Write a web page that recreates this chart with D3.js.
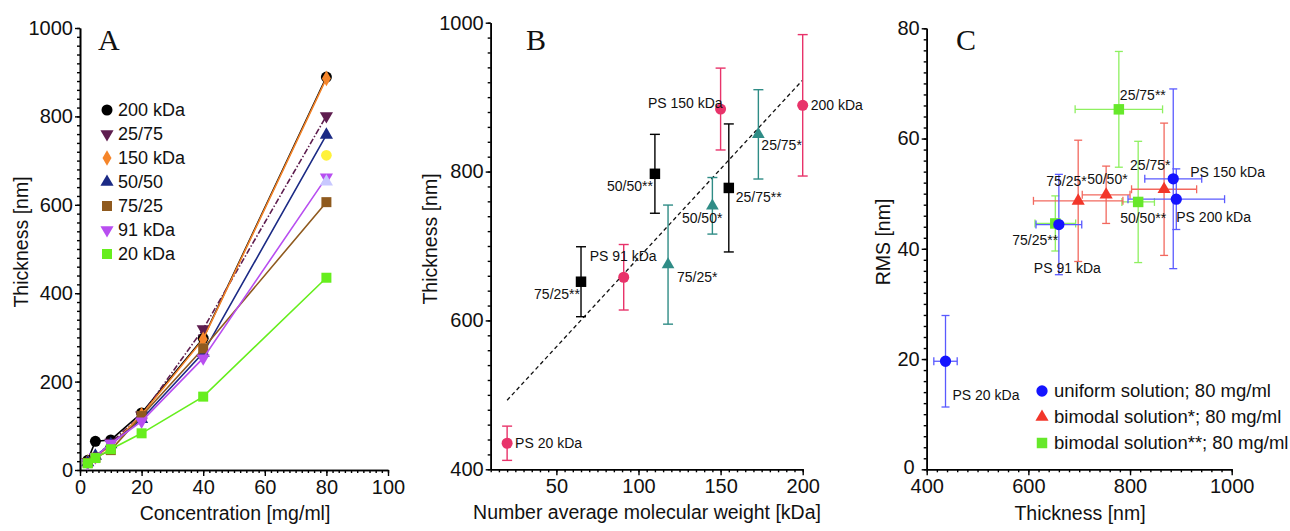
<!DOCTYPE html>
<html>
<head>
<meta charset="utf-8">
<script src="https://cdn.jsdelivr.net/npm/d3@7"></script>
<style>
  body { margin: 0; background: #fff; }
  svg text { font-family: 'Liberation Sans', Arial, sans-serif; fill: #111; }
</style>
</head>
<body>
<script>
// ---------- panel A: thickness vs concentration
const concentrations = [2.5, 5, 10, 20, 40, 80]
const namesA = ['200 kDa', '25/75', '150 kDa', '50/50', '75/25', '91 kDa', '20 kDa']
const thick200 = [22, 65, 68, 129, 298, 889]
const thick2575 = [18, 30, 62, 124, 319, 801]
const thick150 = [18, 30, 55, 125, 296, 886]
const thick5050 = [17, 32, 58, 115, 265, 758]
const thick7525 = [16, 28, 45, 122, 275, 606]
const thick91 = [16, 30, 60, 110, 253, 662]
const thick20 = [15, 27, 47, 83, 166, 435]
// two lone points at 80 mg/ml without a legend entry
const strayConc = [80, 80]
const strayThick = [712, 652]

// ---------- panel B: thickness vs molecular weight
const mwUniform = [20, 91, 150, 200]
const thickUniform = [435, 658, 884, 889]
const errUniform = [23, 44, 55, 95]
const labUniformB = ['PS 20 kDa', 'PS 91 kDa', 'PS 150 kDa', '200 kDa']
const mwBimodal2 = [65, 110, 155]
const thickBimodal2 = [652, 797, 778]
const errBimodal2 = [47, 53, 86]
const labBimodal2B = ['75/25**', '50/50**', '25/75**']
const mwBimodal1 = [118, 145, 173]
const thickBimodal1 = [675, 754, 850]
const errBimodal1 = [80, 38, 60]
const labBimodal1B = ['75/25*', '50/50*', '25/75*']
const fitSlope = 2.39
const fitIntercept = 445

// ---------- panel C: RMS vs thickness
const cThickUni = [437, 660, 885, 891]
const cRmsUni = [19.6, 44.4, 52.7, 49.0]
const cThickErrUni = [23, 45, 56, 95]
const cRmsErrUni = [8.3, 9.1, 16.3, 5.5]
const labUniC = ['PS 20 kDa', 'PS 91 kDa', 'PS 150 kDa', 'PS 200 kDa']
const cThickBi1 = [698, 753, 867]
const cRmsBi1 = [48.7, 49.8, 50.8]
const cThickErrBi1 = [88, 47, 64]
const cRmsErrBi1 = [11, 5.2, 12]
const labBi1C = ['75/25*', '50/50*', '25/75*']
const cThickBi2 = [653, 816, 778]
const cRmsBi2 = [44.6, 48.5, 65.3]
const cThickErrBi2 = [40, 32, 86]
const cRmsErrBi2 = [5, 11, 10.5]
const labBi2C = ['75/25**', '50/50**', '25/75**']
const legendC = ['uniform solution; 80 mg/ml', 'bimodal solution*; 80 mg/ml', 'bimodal solution**; 80 mg/ml']

const svg = d3.select('body').append('svg')
  .attr('width', 1290)
  .attr('height', 531)

const sym = (type, size) => d3.symbol().type(type).size(size)()
const fmt = d3.format('d')

function drawAxes (x, y, xMaj, xMin, yMaj, yMin) {
  const [x0] = x.range()
  const [y0] = y.range()
  const gx = svg.append('g').attr('transform', `translate(0,${y0})`)
  gx.append('g').call(d3.axisBottom(x).tickValues(xMin).tickSize(3).tickFormat('').tickSizeOuter(0))
  gx.append('g').call(d3.axisBottom(x).tickValues(xMaj).tickFormat(fmt).tickSize(6).tickPadding(4).tickSizeOuter(0))
  const gy = svg.append('g').attr('transform', `translate(${x0},0)`)
  gy.append('g').call(d3.axisLeft(y).tickValues(yMin).tickSize(3).tickFormat('').tickSizeOuter(0))
  const yAx = gy.append('g').call(d3.axisLeft(y).tickValues(yMaj).tickFormat(fmt).tickSize(5).tickPadding(2).tickSizeOuter(0))
  for (const g of [gx, gy]) {
    g.selectAll('.domain').attr('stroke', '#000').attr('stroke-width', 1.6)
    g.selectAll('.tick line').attr('stroke', '#000').attr('stroke-width', 1.4)
    g.selectAll('g').attr('font-size', 20).attr('font-family', null)
  }
  return yAx
}

function title (x, y, txt, rotate) {
  svg.append('text')
    .attr('transform', rotate ? `translate(${x},${y}) rotate(-90)` : `translate(${x},${y})`)
    .attr('text-anchor', 'middle')
    .attr('dominant-baseline', rotate ? 'central' : 'auto')
    .attr('font-size', 19.5)
    .text(txt)
}

function letter (x, txt) {
  svg.append('text').attr('x', x).attr('y', 50)
    .style('font-family', "'Liberation Serif', 'Times New Roman', serif")
    .attr('font-size', 30)
    .text(txt)
}

// ================= Panel A
const xA = d3.scaleLinear([0, 100], [80, 388])
const yA = d3.scaleLinear([0, 1000], [470, 28])
drawAxes(xA, yA, d3.range(0, 101, 20), d3.range(0, 101, 2), d3.range(0, 1001, 200), d3.range(0, 1001, 20))
title(21, 242, 'Thickness [nm]', true)
title(235, 520, 'Concentration [mg/ml]', false)
letter(98, 'A')

const seriesA = [thick200, thick2575, thick150, thick5050, thick7525, thick91, thick20]
const styleA = [
  { color: '#000000', type: d3.symbolCircle, size: 95, rot: 0 },
  { color: '#5e1d4f', type: d3.symbolTriangle, size: 75, rot: 180, dash: '6,2,1.5,2' },
  { color: '#f5852a', type: d3.symbolDiamond, size: 70, rot: 0 },
  { color: '#1b2a85', type: d3.symbolTriangle, size: 75, rot: 0 },
  { color: '#8f5a1e', type: d3.symbolSquare, size: 100, rot: 0 },
  { color: '#b84ef0', type: d3.symbolTriangle, size: 75, rot: 180 },
  { color: '#66ee1d', type: d3.symbolSquare, size: 100, rot: 0 }
]
const lineA = d3.line().x(d => xA(d[0])).y(d => yA(d[1]))
seriesA.forEach((vals, i) => {
  const st = styleA[i]
  const pts = concentrations.map((c, j) => [c, vals[j]])
  const g = svg.append('g')
  g.append('path').attr('d', lineA(pts))
    .attr('fill', 'none').attr('stroke', st.color).attr('stroke-width', 1.6)
    .attr('stroke-dasharray', st.dash || null)
  g.selectAll('path.m').data(pts).join('path').attr('class', 'm')
    .attr('d', sym(st.type, st.size))
    .attr('transform', d => `translate(${xA(d[0])},${yA(d[1])}) rotate(${st.rot})`)
    .attr('fill', st.color)
})
svg.append('path').attr('d', sym(d3.symbolCircle, 90))
  .attr('transform', `translate(${xA(strayConc[0])},${yA(strayThick[0])})`).attr('fill', '#fff23a')
svg.append('path').attr('d', sym(d3.symbolTriangle, 75))
  .attr('transform', `translate(${xA(strayConc[1])},${yA(strayThick[1])})`).attr('fill', '#c8c8ff')

const legA = svg.append('g')
namesA.forEach((n, i) => {
  const st = styleA[i]
  const yy = 110 + i * 24
  legA.append('path').attr('d', sym(st.type, st.size))
    .attr('transform', `translate(107,${yy}) rotate(${st.rot})`).attr('fill', st.color)
  legA.append('text').attr('x', 118).attr('y', yy).attr('dy', '0.35em')
    .attr('font-size', 18).text(n)
})

// ================= Panel B
const xB = d3.scaleLinear([10, 200], [490.7, 802.7])
const yB = d3.scaleLinear([400, 1000], [469.3, 22.7])
drawAxes(xB, yB, [50, 100, 150, 200], d3.range(10, 201, 5), d3.range(400, 1001, 200), d3.range(400, 1001, 20))
title(430, 239, 'Thickness [nm]', true)
title(647, 519, 'Number average molecular weight [kDa]', false)
letter(526, 'B')

svg.append('line')
  .attr('x1', xB(20)).attr('y1', yB(fitIntercept + fitSlope * 20))
  .attr('x2', xB(200)).attr('y2', yB(fitIntercept + fitSlope * 200))
  .attr('stroke', '#111').attr('stroke-width', 1.3).attr('stroke-dasharray', '4,3')

function errY (g, x, y, lo, hi, cap, color, w) {
  g.append('line').attr('x1', x).attr('x2', x).attr('y1', y(lo)).attr('y2', y(hi))
    .attr('stroke', color).attr('stroke-width', w)
  for (const v of [lo, hi]) {
    g.append('line').attr('x1', x - cap).attr('x2', x + cap).attr('y1', y(v)).attr('y2', y(v))
      .attr('stroke', color).attr('stroke-width', w)
  }
}
function errX (g, y, x, lo, hi, cap, color, w) {
  g.append('line').attr('y1', y).attr('y2', y).attr('x1', x(lo)).attr('x2', x(hi))
    .attr('stroke', color).attr('stroke-width', w)
  for (const v of [lo, hi]) {
    g.append('line').attr('y1', y - cap).attr('y2', y + cap).attr('x1', x(v)).attr('x2', x(v))
      .attr('stroke', color).attr('stroke-width', w)
  }
}

const groupsB = [
  { mw: mwBimodal2, t: thickBimodal2, e: errBimodal2, lab: labBimodal2B, color: '#000000', type: d3.symbolSquare, size: 110,
    off: [[-1, 17, 'end'], [-2, 17, 'end'], [7, 14, 'start']] },
  { mw: mwBimodal1, t: thickBimodal1, e: errBimodal1, lab: labBimodal1B, color: '#2f8c86', type: d3.symbolTriangle, size: 70,
    off: [[9, 17, 'start'], [10, 17, 'end'], [3, 16, 'start']] },
  { mw: mwUniform, t: thickUniform, e: errUniform, lab: labUniformB, color: '#e8336a', type: d3.symbolCircle, size: 95,
    off: [[8, 5, 'start'], [-34, -16, 'start'], [2, -1, 'end'], [8, 5, 'start']] }
]
groupsB.forEach(gr => {
  const g = svg.append('g')
  gr.mw.forEach((m, i) => {
    const px = xB(m)
    errY(g, px, yB, gr.t[i] - gr.e[i], gr.t[i] + gr.e[i], 5, gr.color, 1.4)
    g.append('path').attr('d', sym(gr.type, gr.size))
      .attr('transform', `translate(${px},${yB(gr.t[i])})`).attr('fill', gr.color)
    g.append('text').attr('x', px + gr.off[i][0]).attr('y', yB(gr.t[i]) + gr.off[i][1])
      .attr('text-anchor', gr.off[i][2]).attr('font-size', 14).text(gr.lab[i])
  })
})

// ================= Panel C
const xC = d3.scaleLinear([400, 1000], [926.7, 1231.7])
const yC = d3.scaleLinear([0, 80], [469.3, 28.3])
const yAxC = drawAxes(xC, yC, d3.range(400, 1001, 200), d3.range(400, 1001, 20), d3.range(0, 81, 20), d3.range(0, 81, 2))
// nudge the "0" so it clears the "400" below it
yAxC.selectAll('.tick text').filter(d => d === 0).attr('dx', -5).attr('dy', '0.2em')
title(883, 242, 'RMS [nm]', true)
title(1080, 520, 'Thickness [nm]', false)
letter(956, 'C')

const groupsC = [
  { t: cThickBi2, r: cRmsBi2, te: cThickErrBi2, re: cRmsErrBi2, lab: labBi2C, color: '#66e82a', bar: '#8ef060', type: d3.symbolSquare, size: 110,
    off: [[-43, 22], [-18, 21], [1, -9]] },
  { t: cThickBi1, r: cRmsBi1, te: cThickErrBi1, re: cRmsErrBi1, lab: labBi1C, color: '#f2362a', bar: '#f2685e', type: d3.symbolTriangle, size: 75,
    off: [[-32, -14.5], [-19, -11], [-34, -19]] },
  { t: cThickUni, r: cRmsUni, te: cThickErrUni, re: cRmsErrUni, lab: labUniC, color: '#1414ff', bar: '#5a5aff', type: d3.symbolCircle, size: 100,
    off: [[7, 39], [-25, 48], [17, -2], [0, 23]] }
]
const barsC = svg.append('g')
const marksC = svg.append('g')
groupsC.forEach(gr => {
  gr.t.forEach((t, i) => {
    const px = xC(t)
    const py = yC(gr.r[i])
    errY(barsC, px, yC, gr.r[i] - gr.re[i], gr.r[i] + gr.re[i], 4, gr.bar, 1.3)
    errX(barsC, py, xC, t - gr.te[i], t + gr.te[i], 4, gr.bar, 1.3)
    marksC.append('path').attr('d', sym(gr.type, gr.size))
      .attr('transform', `translate(${px},${py})`).attr('fill', gr.color)
    marksC.append('text').attr('x', px + gr.off[i][0]).attr('y', py + gr.off[i][1])
      .attr('font-size', 14).text(gr.lab[i])
  })
})

const legC = svg.append('g')
const legOrder = [groupsC[2], groupsC[1], groupsC[0]]
legendC.forEach((n, i) => {
  const yy = 391 + i * 26
  legC.append('path').attr('d', sym(legOrder[i].type, legOrder[i].size))
    .attr('transform', `translate(1042,${yy})`).attr('fill', legOrder[i].color)
  legC.append('text').attr('x', 1054).attr('y', yy).attr('dy', '0.35em')
    .attr('font-size', 18.5).text(n)
})
</script>
</body>
</html>
